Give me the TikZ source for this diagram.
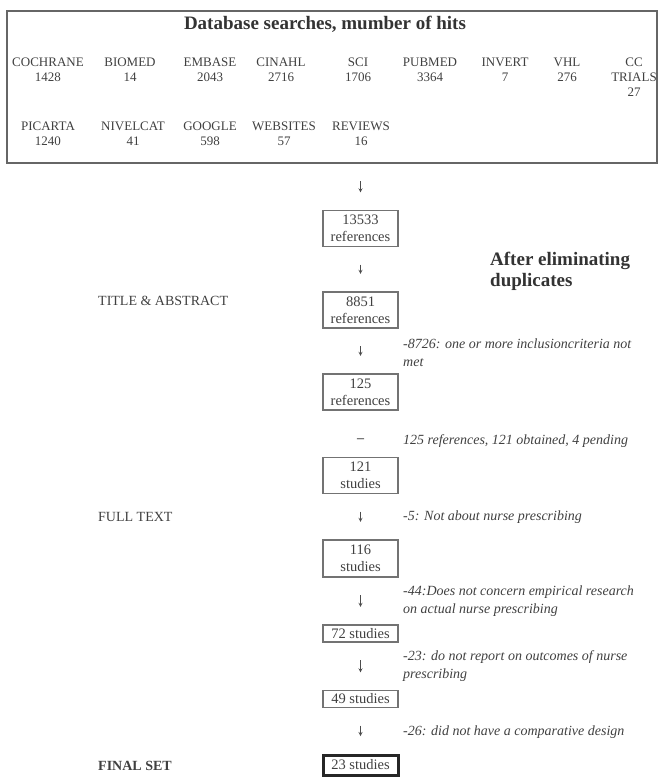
\documentclass[tikz,border=0pt]{standalone}
\usepackage{fontspec}
\setmainfont{Liberation Serif}

\tikzset{
  dbitem/.style={anchor=north,inner sep=0pt,align=center,text=black!75,font=\fontsize{13}{15}\selectfont},
  countbox/.style={draw=black!55,line width=1.2pt,text=black!75,minimum width=75pt,inner sep=2pt,align=center,font=\fontsize{14.5}{17}\selectfont},
  note/.style={anchor=west,align=left,inner sep=0pt,text=black!75,font=\fontsize{14}{18}\selectfont\itshape},
  stage/.style={anchor=west,inner sep=0pt,text=black!75,font=\fontsize{14}{17}\selectfont},
  gaparrow/.style={->,draw=black!70,line width=0.8pt,shorten <=17.5pt,shorten >=17.5pt},
}

\begin{document}
\begin{tikzpicture}[>=stealth,x=1pt,y=-1pt]
\useasboundingbox (0,0) rectangle (662,777);

% database searches
\node[draw=black!60,line width=1.5pt,minimum width=650pt,minimum height=152pt] (search) at (332,87) {};
\node[anchor=base,text=black!80,font=\fontsize{19}{21}\selectfont\bfseries] (title) at (325,29) {Database searches, mumber of hits};
\foreach \db/\hits/\xc [count=\i] in {COCHRANE/1428/48,BIOMED/14/130,EMBASE/2043/210,CINAHL/2716/281,SCI/1706/358,PUBMED/3364/430,INVERT/7/505,VHL/276/567}
  \node[dbitem] (top\i) at (\xc,58) {\db\\\hits};
\node[dbitem] (cctrials) at (634,58) {CC\\TRIALS\\27};
\foreach \db/\hits/\xc [count=\i] in {PICARTA/1240/48,NIVELCAT/41/133,GOOGLE/598/210,WEBSITES/57/284,REVIEWS/16/361}
  \node[dbitem] (bot\i) at (\xc,122) {\db\\\hits};

% selection steps
\node[countbox,minimum height=36pt] (b1) at (360.5,228.5) {13533\\references};
\node[countbox,minimum height=36pt] (b2) at (360.5,310) {8851\\references};
\node[countbox,minimum height=36pt] (b3) at (360.5,392) {125\\references};
\node[countbox,minimum height=36pt] (b4) at (360.5,475.5) {121\\studies};
\node[countbox,minimum height=37pt] (b5) at (360.5,558.5) {116\\studies};
\node[countbox,minimum height=17pt] (b6) at (360.5,633.5) {72 studies};
\node[countbox,minimum height=17pt] (b7) at (360.5,699) {49 studies};
\node[countbox,minimum height=20pt,draw=black!85,line width=3pt] (b8) at (360.5,765) {23 studies};

\draw[gaparrow] (search.south -| b1) -- (b1);
\draw[gaparrow] (b1) -- (b2);
\draw[gaparrow] (b2) -- (b3);
\node[text=black!70,font=\fontsize{14}{17}\selectfont\bfseries] (same) at (360.5,441) {–};
\draw[gaparrow] (b4) -- (b5);
\draw[gaparrow] (b5) -- (b6);
\draw[gaparrow] (b6) -- (b7);
\draw[gaparrow] (b7) -- (b8);

% remarks
\node[anchor=west,align=left,inner sep=0pt,text=black!80,font=\fontsize{19}{21}\selectfont\bfseries] (dupl) at (490,271) {After eliminating\\duplicates};
\node[note] (n2) at (403,353) {-8726: one or more inclusioncriteria not\\met};
\node[note] (n3) at (403,441) {125 references, 121 obtained, 4 pending};
\node[note] (n4) at (403,517) {-5: Not about nurse prescribing};
\node[note] (n5) at (403,601) {-44:Does not concern empirical research\\on actual nurse prescribing};
\node[note] (n6) at (403,666) {-23: do not report on outcomes of nurse\\prescribing};
\node[note] (n7) at (403,732) {-26: did not have a comparative design};

% stages
\node[stage] (s1) at (98,300.5) {TITLE \& ABSTRACT};
\node[stage] (s2) at (98,517) {FULL TEXT};
\node[stage,font=\fontsize{14}{17}\selectfont\bfseries] (s3) at (98,765.5) {FINAL SET};
\end{tikzpicture}
\end{document}
